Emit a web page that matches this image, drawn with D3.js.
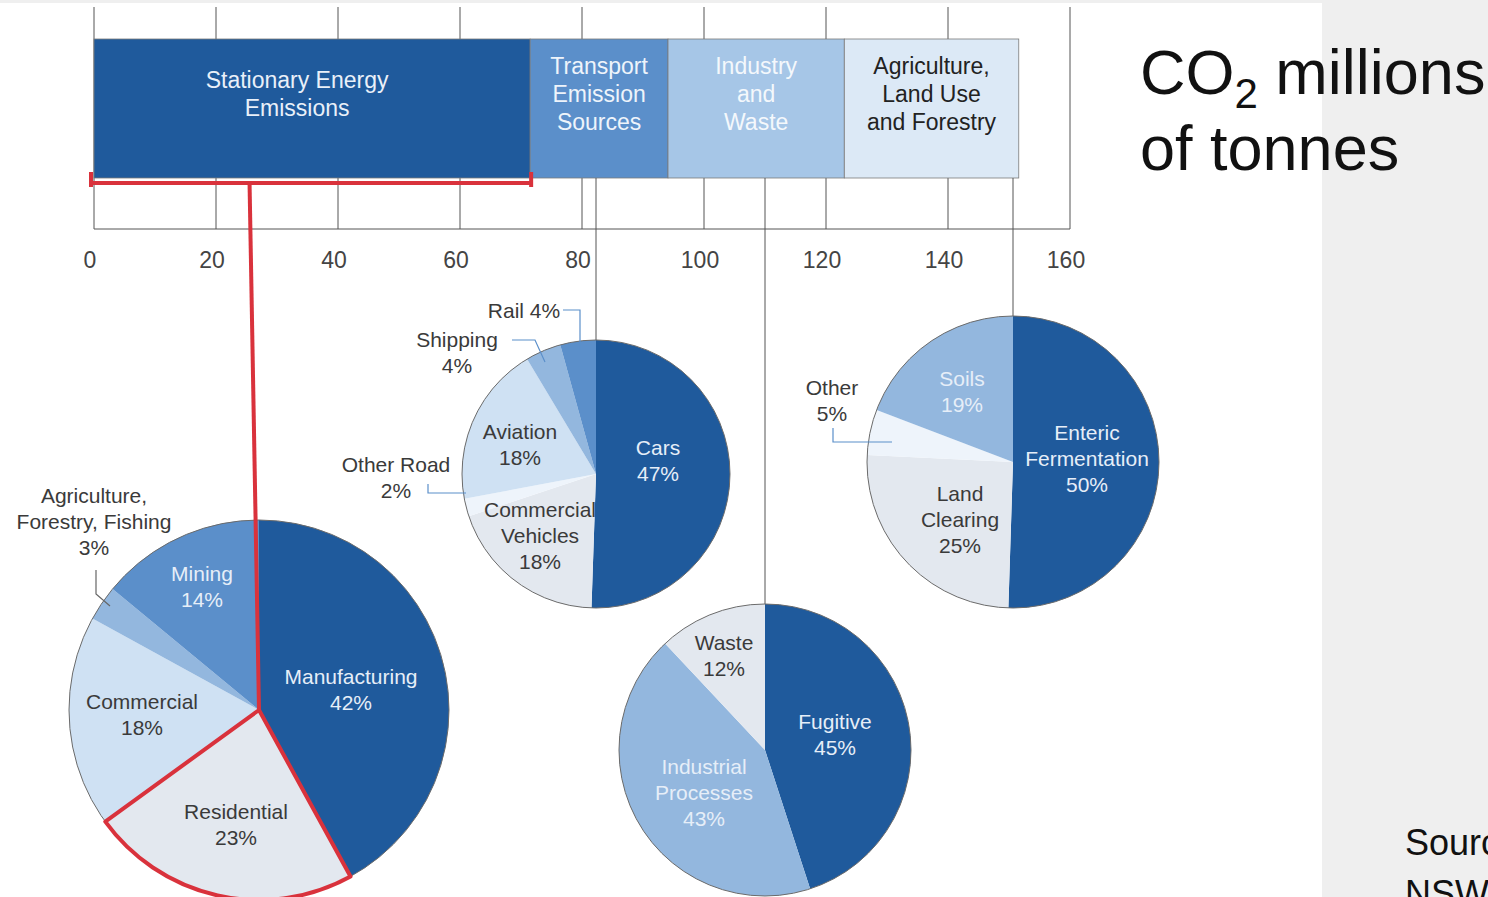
<!DOCTYPE html>
<meta charset="utf-8">
<style>
body { margin: 0; background: #fff; font-family: 'Liberation Sans', Arial, sans-serif; }
svg { display: block; }
</style>
<body>
<svg class="chart"></svg>
<script src="https://d3js.org/d3.v7.min.js"></script>
<script>
// ---- data ----
const sectors = ["Stationary Energy\nEmissions", "Transport\nEmission\nSources", "Industry\nand\nWaste", "Agriculture,\nLand Use\nand Forestry"];
const sectorValues = [71.5, 22.6, 28.9, 28.6];   // CO2, millions of tonnes
const xTicks = [0, 20, 40, 60, 80, 100, 120, 140, 160];

const stationaryNames = ["Manufacturing", "Residential", "Commercial", "Agriculture,\nForestry, Fishing", "Mining"];
const stationaryPct = [42, 23, 18, 3, 14];
const transportNames = ["Cars", "Commercial\nVehicles", "Other Road", "Aviation", "Shipping", "Rail"];
const transportPct = [47, 18, 2, 18, 4, 4];
const industryNames = ["Fugitive", "Industrial\nProcesses", "Waste"];
const industryPct = [45, 43, 12];
const agriNames = ["Enteric\nFermentation", "Land\nClearing", "Other", "Soils"];
const agriPct = [50, 25, 5, 19];

// ---- styles ----
const col = {dark: "#1f5a9c", mid: "#5b8fca", midl: "#93b7de", light: "#cfe1f3", pale: "#e3e8ef", white: "#eef4fb", agr: "#dce9f6", ind: "#a6c6e7"};
const barColors = [col.dark, col.mid, col.ind, col.agr];
const barText = ["#e9f0f9", "#eef4fb", "#f4f8fc", "#222"];
const darkText = "#3a3a3a", lightText = "#e6eef8";
const red = "#d9323c";

const W = 1488, H = 897;
const svg = d3.select(".chart").attr("width", W).attr("height", H);

// background panels
svg.append("rect").attr("x", 1322).attr("y", 0).attr("width", W - 1322).attr("height", H).attr("fill", "#efefef");
svg.append("rect").attr("x", 0).attr("y", 0).attr("width", W).attr("height", 3).attr("fill", "#efefef");

const x = d3.scaleLinear().domain([0, 160]).range([94, 1070]);
const gridTop = 7, axisY = 229, barTop = 39, barBot = 178;

// gridlines + baseline
svg.append("g").selectAll("line").data(xTicks).join("line")
  .attr("x1", d => x(d)).attr("x2", d => x(d))
  .attr("y1", gridTop).attr("y2", axisY)
  .attr("stroke", "#555").attr("stroke-width", 1);
svg.append("line").attr("x1", x(0)).attr("x2", x(160)).attr("y1", axisY).attr("y2", axisY)
  .attr("stroke", "#555").attr("stroke-width", 1);

// axis labels
svg.append("g").selectAll("text").data(xTicks).join("text")
  .attr("x", d => x(d) - 4).attr("y", 268)
  .attr("text-anchor", "middle").attr("font-size", 23).attr("fill", "#444")
  .text(d => d);

// stacked bar
let acc = 0;
const stack = sectorValues.map((v, i) => { const s = {name: sectors[i], x0: acc, x1: acc + v, i}; acc += v; return s; });

const bars = svg.append("g").selectAll("g").data(stack).join("g");
bars.append("rect")
  .attr("x", d => x(d.x0)).attr("width", d => x(d.x1) - x(d.x0))
  .attr("y", barTop).attr("height", barBot - barTop)
  .attr("fill", d => barColors[d.i]).attr("stroke", "#7a7a7a").attr("stroke-width", 0.8);
bars.each(function(d) {
  const lines = d.name.split("\n");
  const cx = (x(d.x0) + x(d.x1)) / 2 + (d.i === 0 ? -15 : 0);
  const y0 = d.i === 0 ? 88 : 74;
  d3.select(this).selectAll("text").data(lines).join("text")
    .attr("x", cx).attr("y", (t, k) => y0 + k * 28)
    .attr("text-anchor", "middle").attr("font-size", 23)
    .attr("fill", barText[d.i]).text(t => t);
});

// ---- pies ----
const pies = [
  {names: stationaryNames, pct: stationaryPct, cx: 259, cy: 710, r: 190,
   colors: [col.dark, col.pale, col.light, col.midl, col.mid],
   labels: [[92, -20, 1], [-23, 115, 0], [-117, 5, 0], [-165, -188, 0], [-57, -123, 1]]},
  {names: transportNames, pct: transportPct, cx: 596, cy: 474, r: 134,
   colors: [col.dark, col.pale, col.white, col.light, col.midl, col.mid],
   labels: [[62, -13, 1], [-56, 62, 0], [-200, 4, 0], [-76, -29, 0], [-139, -121, 0], [-72, -163, 0, true]]},
  {names: industryNames, pct: industryPct, cx: 765, cy: 750, r: 146,
   colors: [col.dark, col.midl, col.pale],
   labels: [[70, -15, 1], [-61, 43, 1], [-41, -94, 0]]},
  {names: agriNames, pct: agriPct, cx: 1013, cy: 462, r: 146,
   colors: [col.dark, col.pale, col.white, col.midl],
   labels: [[74, -3, 1], [-53, 58, 0], [-181, -61, 0], [-51, -70, 1]]}
];

// grey connectors from the bar down to each pie
pies.slice(1).forEach(p => {
  svg.append("line").attr("x1", p.cx).attr("x2", p.cx).attr("y1", barBot).attr("y2", p.cy - p.r)
    .attr("stroke", "#555").attr("stroke-width", 1);
});

const pie = d3.pie().sort(null).value(d => d);

pies.forEach((p, pi) => {
  const g = svg.append("g").attr("transform", `translate(${p.cx},${p.cy})`);
  const arc = d3.arc().innerRadius(0).outerRadius(p.r);
  const arcs = pie(p.pct);
  g.selectAll("path").data(arcs).join("path")
    .attr("d", arc).attr("fill", (d, i) => p.colors[i]);
  g.append("circle").attr("r", p.r).attr("fill", "none").attr("stroke", "#6b6b6b").attr("stroke-width", 1);

  p.names.forEach((name, i) => {
    const [dx, dy, light, inline] = p.labels[i];
    const lines = inline ? [name + " " + p.pct[i] + "%"] : name.split("\n").concat([p.pct[i] + "%"]);
    const t = g.append("text").attr("text-anchor", "middle").attr("font-size", 21)
      .attr("fill", light ? lightText : darkText);
    lines.forEach((ln, k) => {
      t.append("tspan").attr("x", dx).attr("y", dy + (k - (lines.length - 1) / 2) * 26).attr("dy", "0.35em").text(ln);
    });
  });

  if (pi === 0) {
    // red outline on Residential slice
    g.append("path").attr("d", arc(arcs[1])).attr("fill", "none")
      .attr("stroke", red).attr("stroke-width", 4).attr("stroke-linejoin", "round");
  }
});

// leader lines
const leaders = [
  {d: "M563,310 H580 V350", c: "#5b8fca"},
  {d: "M512,340 H535 L545,362", c: "#5b8fca"},
  {d: "M428,484 V493 H466", c: "#5b8fca"},
  {d: "M96,570 V594 L110,606", c: "#666"},
  {d: "M833,428 V442 H892", c: "#5b8fca"}
];
svg.append("g").selectAll("path").data(leaders).join("path")
  .attr("d", d => d.d).attr("fill", "none").attr("stroke", d => d.c).attr("stroke-width", 1.2);

// red bracket for Stationary Energy
const bx0 = x(0) - 3, bx1 = x(stack[0].x1) + 1, by = 183;
svg.append("path")
  .attr("d", `M${bx0},172 V187 M${bx0},${by} H${bx1} M${bx1},172 V187`)
  .attr("fill", "none").attr("stroke", red).attr("stroke-width", 4);
svg.append("line").attr("x1", x(25.5)).attr("y1", by).attr("x2", pies[0].cx).attr("y2", pies[0].cy)
  .attr("stroke", red).attr("stroke-width", 4);

// title
const title = svg.append("text").attr("x", 1140).attr("y", 94).attr("font-size", 63).attr("fill", "#111");
title.append("tspan").text("CO");
title.append("tspan").attr("font-size", 42).attr("dy", 14).text("2");
title.append("tspan").attr("dy", -14).text(" millions");
svg.append("text").attr("x", 1140).attr("y", 170).attr("font-size", 63).attr("fill", "#111").text("of tonnes");

// source note (cut off at the right edge, as in the original)
svg.append("text").attr("x", 1405).attr("y", 855).attr("font-size", 36).attr("fill", "#111").text("Source:");
svg.append("text").attr("x", 1405).attr("y", 906).attr("font-size", 36).attr("fill", "#111").text("NSW");
</script>
</body>
